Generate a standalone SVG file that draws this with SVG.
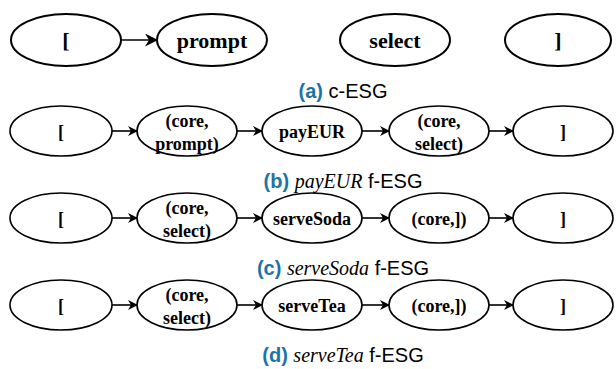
<svg xmlns="http://www.w3.org/2000/svg" width="616" height="369" viewBox="0 0 616 369">
<style>
.n{fill:#fff;stroke:#000;stroke-width:1.6}
.na{fill:#fff;stroke:#000;stroke-width:2}
.t{font-family:"Liberation Serif",serif;font-weight:bold;font-size:18px;text-anchor:middle;fill:#000}
.ta{font-family:"Liberation Serif",serif;font-weight:bold;font-size:22px;text-anchor:middle;fill:#000}
.c{stroke:#000;stroke-width:1.6;fill:none}
.cap{font-family:"Liberation Sans",sans-serif;font-size:20px;text-anchor:middle;fill:#000}
.lbl{fill:#1e73a6;font-weight:bold}
.it{font-family:"Liberation Serif",serif;font-style:italic}
</style>
<defs>
<marker id="ah" markerWidth="10" markerHeight="10" refX="9" refY="5" orient="auto" markerUnits="userSpaceOnUse">
<path d="M0,0 L10,5 L0,10 L3,5 Z" fill="#000"/>
</marker>
<marker id="ahA" markerWidth="13" markerHeight="13" refX="12" refY="6.5" orient="auto" markerUnits="userSpaceOnUse">
<path d="M0,0 L13,6.5 L0,13 L4,6.5 Z" fill="#000"/>
</marker>
</defs>

<g id="connectors">
<line class="c" x1="121" y1="40" x2="157" y2="40" stroke-width="2" marker-end="url(#ahA)"/>
<line class="c" x1="112" y1="131" x2="137" y2="131" marker-end="url(#ah)"/>
<line class="c" x1="237" y1="131" x2="262" y2="131" marker-end="url(#ah)"/>
<line class="c" x1="362" y1="131" x2="389" y2="131" marker-end="url(#ah)"/>
<line class="c" x1="489" y1="131" x2="513" y2="131" marker-end="url(#ah)"/>
<line class="c" x1="112" y1="218" x2="137" y2="218" marker-end="url(#ah)"/>
<line class="c" x1="237" y1="218" x2="262" y2="218" marker-end="url(#ah)"/>
<line class="c" x1="362" y1="218" x2="389" y2="218" marker-end="url(#ah)"/>
<line class="c" x1="489" y1="218" x2="513" y2="218" marker-end="url(#ah)"/>
<line class="c" x1="112" y1="305" x2="137" y2="305" marker-end="url(#ah)"/>
<line class="c" x1="237" y1="305" x2="262" y2="305" marker-end="url(#ah)"/>
<line class="c" x1="362" y1="305" x2="389" y2="305" marker-end="url(#ah)"/>
<line class="c" x1="489" y1="305" x2="513" y2="305" marker-end="url(#ah)"/>
</g>

<!-- row a -->
<g id="a1"><ellipse class="na" cx="66" cy="40" rx="55" ry="26"/><text class="ta" x="66" y="48">[</text></g>
<g id="a2"><ellipse class="na" cx="212" cy="40" rx="55" ry="26"/><text class="ta" x="212" y="48">prompt</text></g>
<g id="a3"><ellipse class="na" cx="395" cy="40" rx="55" ry="26"/><text class="ta" x="395" y="48">select</text></g>
<g id="a4"><ellipse class="na" cx="558" cy="40" rx="53" ry="26"/><text class="ta" x="558" y="48">]</text></g>
<text class="cap" x="343" y="98"><tspan class="lbl">(a)</tspan> c-ESG</text>

<!-- row b -->
<g id="b1"><ellipse class="n" cx="61" cy="131" rx="51" ry="25"/><text class="t" x="61" y="138">[</text></g>
<g id="b2"><ellipse class="n" cx="187" cy="131" rx="50" ry="25"/><text class="t" x="187" y="127">(core,</text><text class="t" x="187" y="150">prompt)</text></g>
<g id="b3"><ellipse class="n" cx="312" cy="131" rx="50" ry="25"/><text class="t" x="312" y="138">payEUR</text></g>
<g id="b4"><ellipse class="n" cx="439" cy="131" rx="50" ry="25"/><text class="t" x="439" y="127">(core,</text><text class="t" x="439" y="150">select)</text></g>
<g id="b5"><ellipse class="n" cx="563" cy="131" rx="50" ry="25"/><text class="t" x="563" y="138">]</text></g>
<text class="cap" x="343" y="188"><tspan class="lbl">(b)</tspan> <tspan class="it">payEUR</tspan> f-ESG</text>

<!-- row c -->
<g id="c1"><ellipse class="n" cx="61" cy="218" rx="51" ry="25"/><text class="t" x="61" y="225">[</text></g>
<g id="c2"><ellipse class="n" cx="187" cy="218" rx="50" ry="25"/><text class="t" x="187" y="214">(core,</text><text class="t" x="187" y="237">select)</text></g>
<g id="c3"><ellipse class="n" cx="312" cy="218" rx="50" ry="25"/><text class="t" x="312" y="225">serveSoda</text></g>
<g id="c4"><ellipse class="n" cx="439" cy="218" rx="50" ry="25"/><text class="t" x="439" y="225">(core,])</text></g>
<g id="c5"><ellipse class="n" cx="563" cy="218" rx="50" ry="25"/><text class="t" x="563" y="225">]</text></g>
<text class="cap" x="343" y="275"><tspan class="lbl">(c)</tspan> <tspan class="it">serveSoda</tspan> f-ESG</text>

<!-- row d -->
<g id="d1"><ellipse class="n" cx="61" cy="305" rx="51" ry="25"/><text class="t" x="61" y="312">[</text></g>
<g id="d2"><ellipse class="n" cx="187" cy="305" rx="50" ry="25"/><text class="t" x="187" y="301">(core,</text><text class="t" x="187" y="324">select)</text></g>
<g id="d3"><ellipse class="n" cx="312" cy="305" rx="50" ry="25"/><text class="t" x="312" y="312">serveTea</text></g>
<g id="d4"><ellipse class="n" cx="439" cy="305" rx="50" ry="25"/><text class="t" x="439" y="312">(core,])</text></g>
<g id="d5"><ellipse class="n" cx="563" cy="305" rx="50" ry="25"/><text class="t" x="563" y="312">]</text></g>
<text class="cap" x="343" y="362"><tspan class="lbl">(d)</tspan> <tspan class="it">serveTea</tspan> f-ESG</text>
</svg>
